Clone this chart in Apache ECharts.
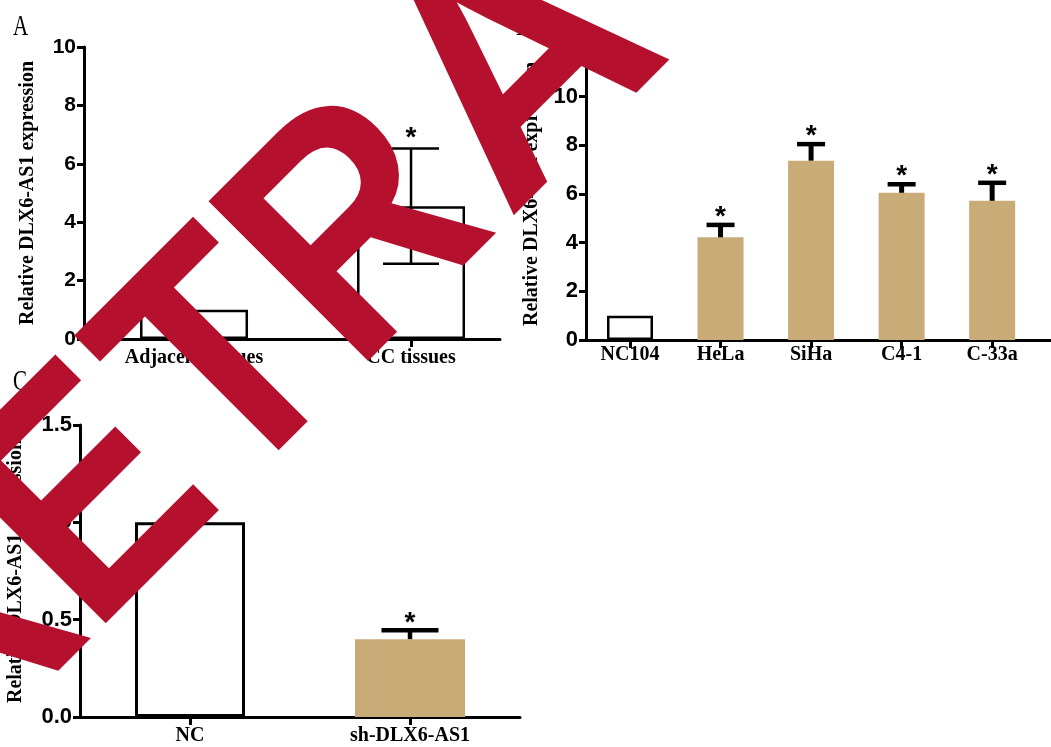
<!DOCTYPE html>
<html><head><meta charset="utf-8">
<script src="https://cdn.jsdelivr.net/npm/echarts@6/dist/echarts.min.js"></script>
<style>html,body{margin:0;padding:0;background:#fff}#c{width:1051px;height:747px}</style>
</head><body><div id="c"></div>
<script>
// ---------- data ----------
const catsA = ['Adjacent tissues', 'CC tissues'];
const valsA = [1.0, 4.55];
const errA  = [0, 1.97];
const sigA  = [0, 1];

const catsB = ['NC104', 'HeLa', 'SiHa', 'C4-1', 'C-33a'];
const valsB = [1.0, 4.22, 7.37, 6.05, 5.72];
const errB  = [0, 0.51, 0.68, 0.35, 0.74];
const sigB  = [0, 1, 1, 1, 1];

const catsC = ['NC', 'sh-DLX6-AS1'];
const valsC = [1.0, 0.40];
const errC  = [0, 0.045];
const sigC  = [0, 1];

const yTitle = 'Relative DLX6-AS1 expression';
const panelLetters = ['A', 'B', 'C'];
const watermark = 'RETRACTED';

// ---------- styles ----------
const TAN = '#C9AB78';
const RED = '#B5112E';
const SANS = '"Liberation Sans", Arial, sans-serif';
const SERIF = '"Liberation Serif", "Times New Roman", serif';

function barData(vals, whiteAll, bw) {
  return vals.map((v, i) => {
    const white = whiteAll || i === 0;
    return {
      value: [i, v],
      itemStyle: white ? { color: '#fff', borderColor: '#000', borderWidth: bw }
                       : { color: TAN, borderWidth: 0 }
    };
  });
}
function errData(vals, errs, sigs) {
  return vals.map((v, i) => [i, v, errs[i], sigs[i]]);
}
function errRender(o) {
  return function (params, api) {
    const x = api.value(0), v = api.value(1), e = api.value(2), s = api.value(3);
    const ch = [];
    const top = api.coord([x, v + e]);
    const base = api.coord([x, v]);
    if (e > 0) {
      const bot = o.two ? api.coord([x, v - e]) : base;
      ch.push({ type: 'line', shape: { x1: top[0], y1: top[1], x2: bot[0], y2: bot[1] },
        style: { stroke: '#000', lineWidth: o.stem } });
      ch.push({ type: 'line', shape: { x1: top[0] - o.cap / 2, y1: top[1], x2: top[0] + o.cap / 2, y2: top[1] },
        style: { stroke: '#000', lineWidth: o.lw } });
      if (o.two) {
        ch.push({ type: 'line', shape: { x1: bot[0] - o.cap / 2, y1: bot[1], x2: bot[0] + o.cap / 2, y2: bot[1] },
          style: { stroke: '#000', lineWidth: o.lw } });
      }
    }
    if (s) {
      ch.push({ type: 'text', x: top[0], y: top[1] - o.starGap,
        style: { text: '*', font: 'bold 28px ' + SANS, fill: '#000',
          align: 'center', verticalAlign: 'middle', textAlign: 'center', textVerticalAlign: 'middle' } });
    }
    return { type: 'group', children: ch };
  };
}

const axisLineStyle = { show: true, onZero: false, lineStyle: { color: '#000', width: 3 } };

function xAxisDef(idx, cats, min, max, margin) {
  const cv = cats.map((c, i) => i);
  return {
    type: 'value', gridIndex: idx, min: min, max: max,
    axisLine: axisLineStyle,
    axisTick: { show: true, customValues: cv, length: 8, lineStyle: { color: '#000', width: 3 } },
    axisLabel: { show: true, customValues: cv, margin: margin, formatter: (v) => cats[Math.round(v)],
      color: '#000', fontFamily: SERIF, fontWeight: 'bold', fontSize: 20 },
    splitLine: { show: false }
  };
}
function yAxisDef(idx, max, interval, gap, fs, dec) {
  return {
    type: 'value', gridIndex: idx, min: 0, max: max, interval: interval,
    axisLine: axisLineStyle,
    axisTick: { show: true, length: 7, lineStyle: { color: '#000', width: 3 } },
    axisLabel: { margin: 8, color: '#000', fontFamily: SANS, fontWeight: 'bold', fontSize: fs,
      formatter: (v) => dec ? v.toFixed(1) : String(v) },
    splitLine: { show: false },
    name: yTitle, nameLocation: 'middle', nameRotate: 90, nameGap: gap,
    nameTextStyle: { color: '#000', fontFamily: SERIF, fontWeight: 'bold', fontSize: 20 }
  };
}

// watermark letters laid along a 45-degree baseline (s = along text, v = across)
const wmOrigins = [-587, -385, -188, -14, 203, 452, 660, 840, 1030];
const wmScale   = [0.87, 0.87, 0.87, 0.87, 1.0, 0.87, 0.87, 0.87, 0.87];
const WM_V = 425;
const wmGraphics = watermark.split('').map((ch, i) => {
  const s = wmOrigins[i];
  return {
    type: 'text', x: (s + WM_V) / Math.SQRT2, y: (WM_V - s) / Math.SQRT2,
    rotation: Math.PI / 4, scaleX: wmScale[i], z: 100, zlevel: 1,
    style: { text: ch, font: 'bold 328px ' + SANS, fill: RED,
      align: 'left', verticalAlign: 'middle', textAlign: 'left', textVerticalAlign: 'middle' }
  };
});

const option = {
  animation: false,
  backgroundColor: '#fff',
  grid: [
    { left: 84, top: 47, width: 416, height: 292 },
    { left: 586, top: 48, width: 465, height: 292 },
    { left: 80, top: 425, width: 440, height: 292 }
  ],
  xAxis: [
    xAxisDef(0, catsA, -0.507, 1.41, 9),
    xAxisDef(1, catsB, -0.486, 4.65, 5),
    xAxisDef(2, catsC, -0.5, 1.5, 9)
  ],
  yAxis: [
    yAxisDef(0, 10, 2, 46, 21, false),
    yAxisDef(1, 12, 2, 44, 22, false),
    yAxisDef(2, 1.5, 0.5, 54, 22, true)
  ],
  series: [
    { type: 'bar', xAxisIndex: 0, yAxisIndex: 0, barWidth: 108, data: barData(valsA, true, 2.5), z: 2 },
    { type: 'custom', xAxisIndex: 0, yAxisIndex: 0, data: errData(valsA, errA, sigA), z: 3, clip: false,
      renderItem: errRender({ two: true, stem: 2.5, lw: 2.5, cap: 56, starGap: 10 }) },
    { type: 'bar', xAxisIndex: 1, yAxisIndex: 1, barWidth: 46, data: barData(valsB, false, 2.5), z: 2 },
    { type: 'custom', xAxisIndex: 1, yAxisIndex: 1, data: errData(valsB, errB, sigB), z: 3, clip: false,
      renderItem: errRender({ two: false, stem: 5, lw: 4.5, cap: 28, starGap: 8 }) },
    { type: 'bar', xAxisIndex: 2, yAxisIndex: 2, barWidth: 110, data: barData(valsC, false, 3), z: 2 },
    { type: 'custom', xAxisIndex: 2, yAxisIndex: 2, data: errData(valsC, errC, sigC), z: 3, clip: false,
      renderItem: errRender({ two: false, stem: 4.5, lw: 4.5, cap: 57, starGap: 7 }) }
  ],
  graphic: [
    { type: 'text', x: 13, y: 12, scaleX: 0.7, z: 50,
      style: { text: panelLetters[0], font: '30px ' + SERIF, fill: '#000' } },
    { type: 'text', x: 516, y: 12, scaleX: 0.7, z: 50,
      style: { text: panelLetters[1], font: '30px ' + SERIF, fill: '#000' } },
    { type: 'text', x: 13, y: 367, scaleX: 0.7, z: 50,
      style: { text: panelLetters[2], font: '30px ' + SERIF, fill: '#000' } }
  ].concat(wmGraphics)
};

const chart = echarts.init(document.getElementById('c'), null, { renderer: 'canvas' });
chart.setOption(option);
</script>
</body></html>
